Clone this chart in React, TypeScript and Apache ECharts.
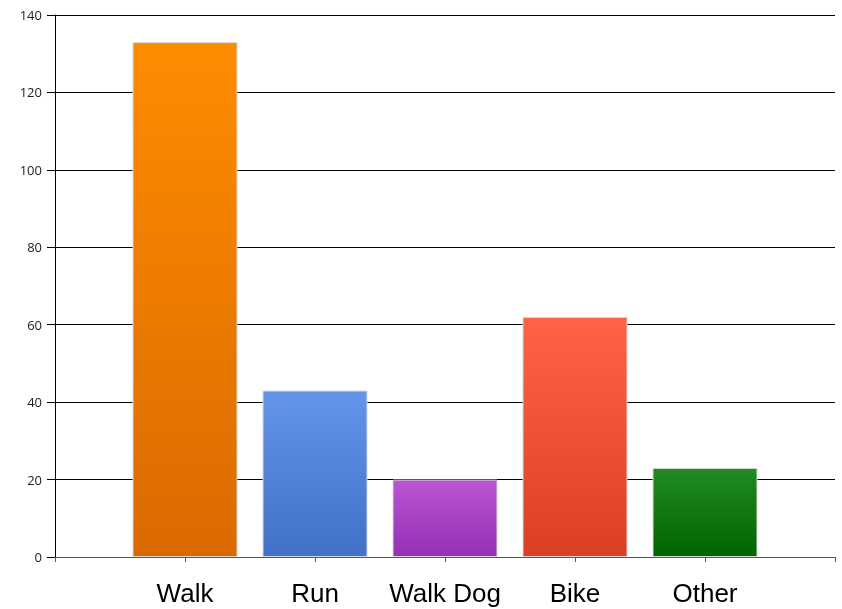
import React, { useEffect, useRef } from "react";
import * as echarts from "echarts";

const categories = ["", "Walk", "Run", "Walk Dog", "Bike", "Other", ""];
const values: (number | null)[] = [null, 133, 43, 20, 62, 23, null];
const topColors = ["", "#FF8C00", "#6495ED", "#BA55D3", "#FF6347", "#228B22", ""];
const bottomColors = ["", "#DA6A00", "#4070C8", "#9530B5", "#DA3F24", "#006400", ""];
const yTicks = { min: 0, max: 140, interval: 20 };

export default function App() {
  const ref = useRef<HTMLDivElement>(null);
  useEffect(() => {
    const chart = echarts.init(ref.current!, undefined, { renderer: "svg" });
    chart.setOption({
      animation: false,
      grid: { left: 55, right: 7, top: 15, bottom: 52, containLabel: false },
      xAxis: {
        type: "category",
        data: categories,
        boundaryGap: false,
        axisLine: { show: true, lineStyle: { color: "#555", width: 1 } },
        axisTick: { show: true, length: 5, lineStyle: { color: "#555" } },
        axisLabel: {
          interval: 0,
          fontSize: 26,
          color: "#000",
          fontFamily: "Liberation Sans, Arial, sans-serif",
          margin: 23,
        },
        splitLine: { show: false },
      },
      yAxis: {
        type: "value",
        min: yTicks.min,
        max: yTicks.max,
        interval: yTicks.interval,
        axisLine: { show: true, lineStyle: { color: "#000", width: 1 } },
        axisTick: { show: true, length: 8, lineStyle: { color: "#000" } },
        axisLabel: {
          fontSize: 13,
          color: "#222",
          fontFamily: "Open Sans, DejaVu Sans, sans-serif",
          margin: 13,
        },
        splitLine: { show: true, lineStyle: { color: "#000", width: 1 } },
      },
      series: [
        {
          type: "bar",
          barWidth: 105,
          data: values.map((v, i) =>
            v === null
              ? null
              : {
                  value: v,
                  itemStyle: {
                    color: new echarts.graphic.LinearGradient(0, 0, 0, 1, [
                      { offset: 0, color: topColors[i] },
                      { offset: 1, color: bottomColors[i] },
                    ]),
                    borderColor: "#d8d8d8",
                    borderWidth: 1,
                  },
                }
          ),
        },
      ],
    });
    return () => chart.dispose();
  }, []);
  return (
    <div
      ref={ref}
      style={{ position: "fixed", left: 0, top: 0, width: 842, height: 609 }}
    />
  );
}
